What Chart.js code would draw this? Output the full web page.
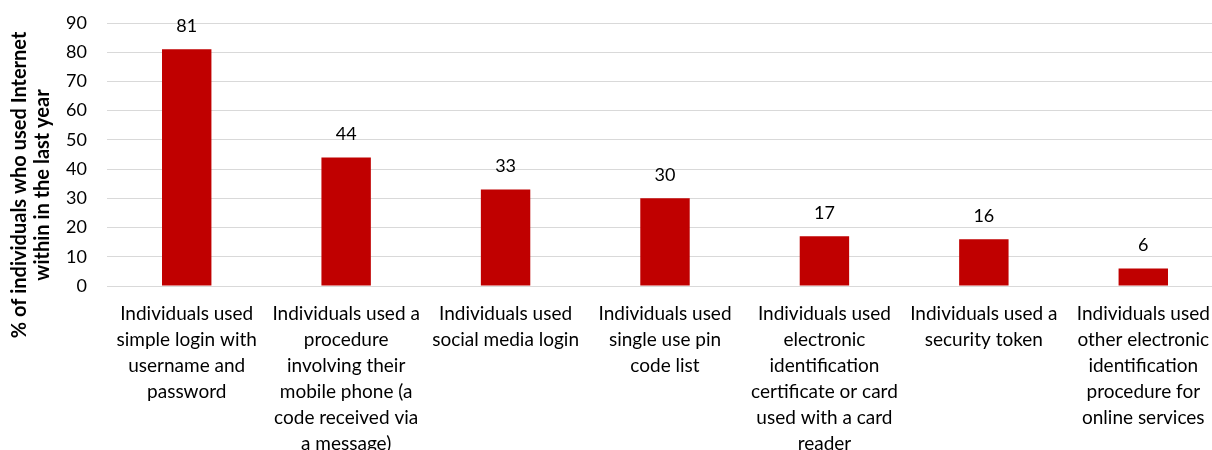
<!DOCTYPE html>
<html>
<head>
<meta charset="utf-8">
<script src="https://cdn.jsdelivr.net/npm/chart.js@4/dist/chart.umd.min.js"></script>
<style>
  html, body { margin: 0; padding: 0; background: #fff; overflow: hidden; }
  #wrap { width: 1212px; height: 450px; overflow: hidden; }
</style>
</head>
<body>
<div id="wrap"><canvas id="chart" width="1230" height="470"></canvas></div>
<script>
var categories = [
    ['Individuals used', 'simple login with', 'username and', 'password'],
    ['Individuals used a', 'procedure', 'involving their', 'mobile phone (a', 'code received via', 'a message)'],
    ['Individuals used', 'social media login'],
    ['Individuals used', 'single use pin', 'code list'],
    ['Individuals used', 'electronic', 'identification', 'certificate or card', 'used with a card', 'reader'],
    ['Individuals used a', 'security token'],
    ['Individuals used', 'other electronic', 'identification', 'procedure for', 'online services']
];
var values = [81, 44, 33, 30, 17, 16, 6];
var yTitle = ['% of individuals who used Internet', 'within in the last year'];

var FONT = 'Lato, "Liberation Sans", sans-serif';

// value labels above the bars
var barLabels = {
    id: 'barLabels',
    afterDatasetsDraw: function (chart) {
        var ctx = chart.ctx;
        var meta = chart.getDatasetMeta(0);
        ctx.save();
        ctx.font = '18px ' + FONT;
        ctx.fillStyle = '#000';
        ctx.textAlign = 'center';
        ctx.textBaseline = 'middle';
        meta.data.forEach(function (bar, i) {
            ctx.fillText(values[i], bar.x, bar.y - 23);
        });
        ctx.restore();
    }
};

// rotated two-line axis title
var axisTitle = {
    id: 'axisTitle',
    afterDraw: function (chart) {
        var ctx = chart.ctx;
        ctx.save();
        ctx.font = 'bold 20px ' + FONT;
        ctx.fillStyle = '#000';
        ctx.textAlign = 'center';
        ctx.textBaseline = 'middle';
        ctx.translate(20, 185);
        ctx.rotate(-Math.PI / 2);
        ctx.fillText(yTitle[0], 0, 0);
        ctx.fillText(yTitle[1], 0, 23);
        ctx.restore();
    }
};

new Chart(document.getElementById('chart'), {
    type: 'bar',
    data: {
        labels: categories,
        datasets: [{
            data: values,
            backgroundColor: '#c00000',
            barPercentage: 1,
            categoryPercentage: 0.31
        }]
    },
    options: {
        responsive: false,
        animation: false,
        layout: { padding: { top: 0, right: 7, left: 0, bottom: 0 } },
        plugins: {
            legend: { display: false },
            tooltip: { enabled: false }
        },
        scales: {
            x: {
                grid: { display: false, drawTicks: false },
                border: { display: true, color: '#d9d9d9' },
                ticks: {
                    autoSkip: false,
                    maxRotation: 0,
                    minRotation: 0,
                    padding: 15,
                    color: '#000',
                    font: { family: FONT, size: 19, lineHeight: 1.37 }
                },
                afterFit: function (scale) { scale.height = 184; }
            },
            y: {
                min: 0,
                max: 90,
                grid: { color: '#d9d9d9', drawTicks: false },
                border: { display: false },
                ticks: {
                    stepSize: 10,
                    padding: 20,
                    color: '#000',
                    font: { family: FONT, size: 18 }
                },
                afterFit: function (scale) {
                    scale.width = 107;
                    scale.paddingTop = 23;
                }
            }
        }
    },
    plugins: [barLabels, axisTitle]
});
</script>
</body>
</html>
